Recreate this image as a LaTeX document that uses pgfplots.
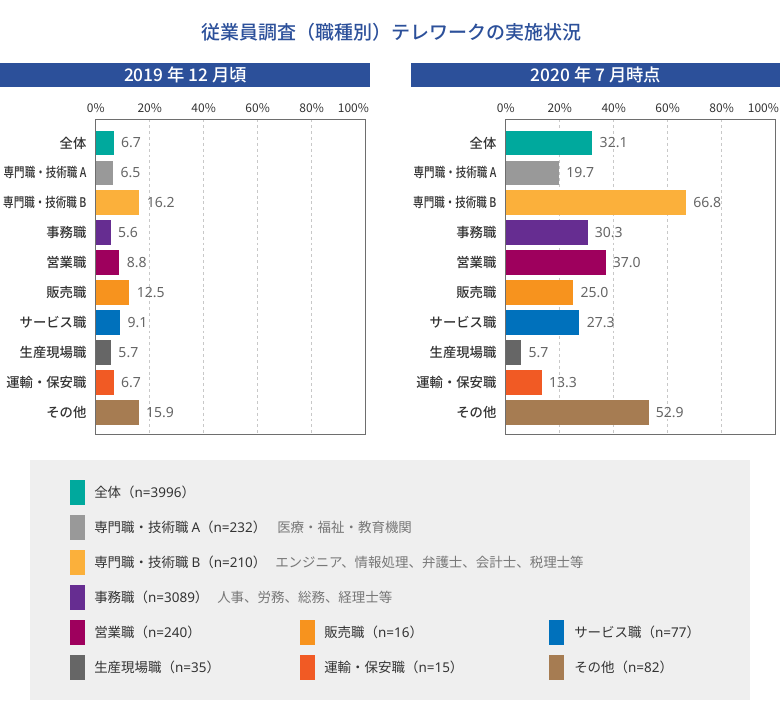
\documentclass[border=0pt]{standalone}
\usepackage{pgfplots}
\pgfplotsset{compat=1.18}
\usepackage{graphicx}
\usepackage{fontspec}
\setmainfont{Noto Sans CJK JP}
\newfontfamily\medfont{Noto Sans CJK JP}[UprightFont=* Medium]
\newfontfamily\numfont{Noto Sans}
\definecolor{cAll}{HTML}{00A99D}
\definecolor{cA}{HTML}{999999}
\definecolor{cB}{HTML}{FBB03B}
\definecolor{cOff}{HTML}{662D91}
\definecolor{cSal}{HTML}{9E005D}
\definecolor{cRet}{HTML}{F7931E}
\definecolor{cSer}{HTML}{0071BC}
\definecolor{cPro}{HTML}{666666}
\definecolor{cTra}{HTML}{F15A24}
\definecolor{cOth}{HTML}{A67C52}
\definecolor{blueT}{HTML}{2C509A}
\definecolor{txt}{HTML}{333333}
\definecolor{valtxt}{HTML}{666666}
\definecolor{desc}{HTML}{777777}
\definecolor{legbg}{HTML}{EFEFEF}
\definecolor{frame}{HTML}{6E6E6E}
\definecolor{gridc}{HTML}{C8C8C8}
\newcommand\lat[1]{{\numfont #1}}
\pgfplotsset{
  panel/.style={
    xbar, scale only axis, width=202.4pt, height=236.1pt,
    xmin=0, xmax=100, ymin=-0.79, ymax=9.73, y dir=reverse,
    ytick={0,...,9},
    yticklabels={全体,{\scalebox{0.79}[1]{専門職・技術職 A}},{\scalebox{0.79}[1]{専門職・技術職 B}},事務職,営業職,販売職,サービス職,生産現場職,運輸・保安職,その他},
    xtick={0,20,40,60,80,100},
    xticklabels={0\%,20\%,40\%,60\%,80\%,{\makebox[0pt][r]{100\%\kern-2.5pt}}},
    xticklabel pos=upper, major tick length=0pt,
    xmajorgrids, grid style={dash pattern=on 2.2pt off 2.2pt, color=gridc, line width=0.6pt},
    axis line style={color=frame, line width=0.9pt},
    xticklabel style={font=\fontsize{9pt}{10pt}\selectfont, color=txt, yshift=1.5pt},
    yticklabel style={font=\medfont\fontsize{10pt}{11pt}\selectfont, color=txt, xshift=-3.5pt},
    bar width=18.5pt,
    point meta=x,
    nodes near coords={\pgfmathprintnumber[fixed,fixed zerofill,precision=1,assume math mode=true]{\pgfplotspointmeta}},
    every node near coord/.append style={font=\numfont\fontsize{10.5pt}{12pt}\selectfont, color=valtxt, anchor=west, xshift=2pt},
    /pgf/number format/assume math mode=true,
  },
  b/.style={fill=#1, draw=none, bar shift=0pt},
}
\tikzset{leg/.style={anchor=west, inner sep=0, text=txt, font=\fontsize{10.1pt}{12pt}\selectfont},
         legd/.style={anchor=west, inner sep=0, text=desc, font=\fontsize{10.1pt}{12pt}\selectfont}}
\begin{document}
\begin{tikzpicture}
\useasboundingbox (0,0) rectangle (585pt,-525pt);
\begin{scope}[x=0.75pt,y=-0.75pt]
  \fill[blueT] (0,63.3) rectangle (370,87.3);
  \fill[blueT] (411,63.3) rectangle (780,87.3);
  \node[text=white, font=\medfont\fontsize{13pt}{15pt}\selectfont] at (185.5,75.3) {2019 年 12 月頃};
  \node[text=white, font=\medfont\fontsize{13pt}{15pt}\selectfont] at (596,75.3) {2020 年 7 月時点};
  \node[text=blueT, font=\medfont\fontsize{14.25pt}{16pt}\selectfont] at (391,32) {従業員調査（職種別）テレワークの実施状況};
  \fill[legbg] (30,460) rectangle (750,700);
  % legend rows
  \fill[cAll] (70,480) rectangle (85,505);
  \node[leg] at (94,492.5) {全体（\lat{n=3996}）};
  \fill[cA] (70,515) rectangle (85,540);
  \node[leg] at (94,527.5) {専門職・技術職 \lat{A}（\lat{n=232}）};
  \node[legd] at (277,527.5) {医療・福祉・教育機関};
  \fill[cB] (70,550) rectangle (85,575);
  \node[leg] at (94,562.5) {専門職・技術職 \lat{B}（\lat{n=210}）};
  \node[legd] at (275,562.5) {エンジニア、情報処理、弁護士、会計士、税理士等};
  \fill[cOff] (70,585) rectangle (85,610);
  \node[leg] at (94,597.5) {事務職（\lat{n=3089}）};
  \node[legd] at (217,597.5) {人事、労務、総務、経理士等};
  \fill[cSal] (70,620) rectangle (85,645);
  \node[leg] at (94,632.5) {営業職（\lat{n=240}）};
  \fill[cRet] (300,620) rectangle (315,645);
  \node[leg] at (324,632.5) {販売職（\lat{n=16}）};
  \fill[cSer] (549,620) rectangle (564,645);
  \node[leg] at (574,632.5) {サービス職（\lat{n=77}）};
  \fill[cPro] (70,655) rectangle (85,680);
  \node[leg] at (94,667.5) {生産現場職（\lat{n=35}）};
  \fill[cTra] (300,655) rectangle (315,680);
  \node[leg] at (324,667.5) {運輸・保安職（\lat{n=15}）};
  \fill[cOth] (549,655) rectangle (564,680);
  \node[leg] at (574,667.5) {その他（\lat{n=82}）};
\end{scope}
% 2019
\begin{axis}[panel, at={(71.8pt,-89.5pt)}, anchor=north west]
  \addplot[b=cAll] coordinates {(6.7,0)};
  \addplot[b=cA] coordinates {(6.5,1)};
  \addplot[b=cB] coordinates {(16.2,2)};
  \addplot[b=cOff] coordinates {(5.6,3)};
  \addplot[b=cSal] coordinates {(8.8,4)};
  \addplot[b=cRet] coordinates {(12.5,5)};
  \addplot[b=cSer] coordinates {(9.1,6)};
  \addplot[b=cPro] coordinates {(5.7,7)};
  \addplot[b=cTra] coordinates {(6.7,8)};
  \addplot[b=cOth] coordinates {(15.9,9)};
\end{axis}
% 2020
\begin{axis}[panel, at={(379.3pt,-89.5pt)}, anchor=north west]
  \addplot[b=cAll] coordinates {(32.1,0)};
  \addplot[b=cA] coordinates {(19.7,1)};
  \addplot[b=cB] coordinates {(66.8,2)};
  \addplot[b=cOff] coordinates {(30.3,3)};
  \addplot[b=cSal] coordinates {(37.0,4)};
  \addplot[b=cRet] coordinates {(25.0,5)};
  \addplot[b=cSer] coordinates {(27.3,6)};
  \addplot[b=cPro] coordinates {(5.7,7)};
  \addplot[b=cTra] coordinates {(13.3,8)};
  \addplot[b=cOth] coordinates {(52.9,9)};
\end{axis}
\end{tikzpicture}
\end{document}
